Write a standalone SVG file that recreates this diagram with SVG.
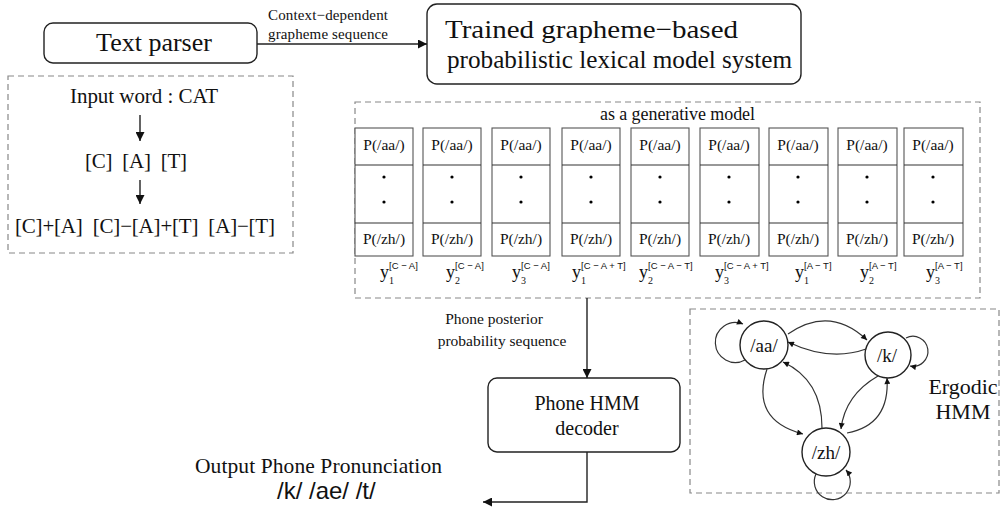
<svg xmlns="http://www.w3.org/2000/svg" width="1001" height="512" viewBox="0 0 1001 512">
<defs>
<style>
text{font-family:"Liberation Serif","Times New Roman",serif;fill:#111;white-space:pre}
.sans{font-family:"Liberation Sans",Arial,sans-serif}
.box{fill:#fff;stroke:#222;stroke-width:1.4}
.dash{fill:none;stroke:#888;stroke-width:1.2;stroke-dasharray:6,4}
.ln{fill:none;stroke:#222;stroke-width:1.4}
.thin{fill:none;stroke:#333;stroke-width:1.2}
.col{fill:#fff;stroke:#555;stroke-width:1.1}
.c{text-anchor:middle}
.p{font-size:15.5px}
.sup{font-size:9.5px;font-family:"Liberation Sans",Arial,sans-serif}
.sub{font-size:10px}
.yl{font-size:18px}
</style>
<marker id="ah" viewBox="0 0 10 10" refX="10" refY="5" markerWidth="11" markerHeight="9" markerUnits="userSpaceOnUse" orient="auto"><path d="M0,0 L10,5 L0,10 z" fill="#111"/></marker>
<marker id="ahv" viewBox="0 0 10 10" refX="10" refY="5" markerWidth="14" markerHeight="9" markerUnits="userSpaceOnUse" orient="auto"><path d="M0,0 L10,5 L0,10 z" fill="#111"/></marker>
<marker id="ahs" viewBox="0 0 10 10" refX="10" refY="5" markerWidth="7" markerHeight="6" markerUnits="userSpaceOnUse" orient="auto"><path d="M0,0 L10,5 L0,10 z" fill="#111"/></marker>
</defs>

<g id="text-parser">
<rect class="box" x="44" y="23" width="213" height="40" rx="9"/>
<text class="c" x="154" y="51" font-size="26">Text parser</text>
</g>

<g id="trained-model">
<rect class="box" x="427" y="4" width="374" height="80" rx="10"/>
<text x="445" y="38" font-size="26" textLength="293" lengthAdjust="spacingAndGlyphs">Trained grapheme−based</text>
<text x="447" y="68" font-size="25" textLength="345" lengthAdjust="spacingAndGlyphs">probabilistic lexical model system</text>
</g>

<g id="input-example">
<rect class="dash" x="8" y="76" width="285" height="177"/>
<text x="70" y="103" font-size="21" textLength="148" lengthAdjust="spacing">Input word : CAT</text>
<text x="85" y="168" font-size="21" textLength="102" lengthAdjust="spacing">[C]  [A]  [T]</text>
<text x="15" y="233" font-size="21" textLength="260" lengthAdjust="spacing">[C]+[A]  [C]−[A]+[T]  [A]−[T]</text>
<line class="ln" x1="140" y1="115" x2="140" y2="141" marker-end="url(#ahv)"/>
<line class="ln" x1="140" y1="180" x2="140" y2="204" marker-end="url(#ahv)"/>
</g>

<g id="generative-model">
<rect class="dash" x="355" y="102" width="625" height="196"/>
<text x="600" y="120" font-size="18" textLength="155" lengthAdjust="spacing">as a generative model</text>
<g id="columns">
<g transform="translate(355,0)"><rect class="col" x="0" y="128" width="58" height="128"/><line class="thin" x1="0" y1="165" x2="58" y2="165"/><line class="thin" x1="0" y1="223" x2="58" y2="223"/><text class="c p" x="29" y="150">P(/aa/)</text><circle cx="29" cy="177" r="1.6"/><circle cx="29" cy="202" r="1.6"/><text class="c p" x="29" y="244">P(/zh/)</text></g>
<g transform="translate(423,0)"><rect class="col" x="0" y="128" width="58" height="128"/><line class="thin" x1="0" y1="165" x2="58" y2="165"/><line class="thin" x1="0" y1="223" x2="58" y2="223"/><text class="c p" x="29" y="150">P(/aa/)</text><circle cx="29" cy="177" r="1.6"/><circle cx="29" cy="202" r="1.6"/><text class="c p" x="29" y="244">P(/zh/)</text></g>
<g transform="translate(492,0)"><rect class="col" x="0" y="128" width="58" height="128"/><line class="thin" x1="0" y1="165" x2="58" y2="165"/><line class="thin" x1="0" y1="223" x2="58" y2="223"/><text class="c p" x="29" y="150">P(/aa/)</text><circle cx="29" cy="177" r="1.6"/><circle cx="29" cy="202" r="1.6"/><text class="c p" x="29" y="244">P(/zh/)</text></g>
<g transform="translate(562,0)"><rect class="col" x="0" y="128" width="58" height="128"/><line class="thin" x1="0" y1="165" x2="58" y2="165"/><line class="thin" x1="0" y1="223" x2="58" y2="223"/><text class="c p" x="29" y="150">P(/aa/)</text><circle cx="29" cy="177" r="1.6"/><circle cx="29" cy="202" r="1.6"/><text class="c p" x="29" y="244">P(/zh/)</text></g>
<g transform="translate(631,0)"><rect class="col" x="0" y="128" width="58" height="128"/><line class="thin" x1="0" y1="165" x2="58" y2="165"/><line class="thin" x1="0" y1="223" x2="58" y2="223"/><text class="c p" x="29" y="150">P(/aa/)</text><circle cx="29" cy="177" r="1.6"/><circle cx="29" cy="202" r="1.6"/><text class="c p" x="29" y="244">P(/zh/)</text></g>
<g transform="translate(700,0)"><rect class="col" x="0" y="128" width="59" height="128"/><line class="thin" x1="0" y1="165" x2="59" y2="165"/><line class="thin" x1="0" y1="223" x2="59" y2="223"/><text class="c p" x="29" y="150">P(/aa/)</text><circle cx="29" cy="177" r="1.6"/><circle cx="29" cy="202" r="1.6"/><text class="c p" x="29" y="244">P(/zh/)</text></g>
<g transform="translate(769,0)"><rect class="col" x="0" y="128" width="59" height="128"/><line class="thin" x1="0" y1="165" x2="59" y2="165"/><line class="thin" x1="0" y1="223" x2="59" y2="223"/><text class="c p" x="29" y="150">P(/aa/)</text><circle cx="29" cy="177" r="1.6"/><circle cx="29" cy="202" r="1.6"/><text class="c p" x="29" y="244">P(/zh/)</text></g>
<g transform="translate(838,0)"><rect class="col" x="0" y="128" width="59" height="128"/><line class="thin" x1="0" y1="165" x2="59" y2="165"/><line class="thin" x1="0" y1="223" x2="59" y2="223"/><text class="c p" x="29" y="150">P(/aa/)</text><circle cx="29" cy="177" r="1.6"/><circle cx="29" cy="202" r="1.6"/><text class="c p" x="29" y="244">P(/zh/)</text></g>
<g transform="translate(904,0)"><rect class="col" x="0" y="128" width="59" height="128"/><line class="thin" x1="0" y1="165" x2="59" y2="165"/><line class="thin" x1="0" y1="223" x2="59" y2="223"/><text class="c p" x="29" y="150">P(/aa/)</text><circle cx="29" cy="177" r="1.6"/><circle cx="29" cy="202" r="1.6"/><text class="c p" x="29" y="244">P(/zh/)</text></g>
</g>
<g id="labels">
<g transform="translate(380,0)"><text class="yl" x="0" y="278">y</text><text class="sub" x="9" y="284">1</text><text class="sup" x="9" y="269">[C − A]</text></g>
<g transform="translate(446,0)"><text class="yl" x="0" y="278">y</text><text class="sub" x="9" y="284">2</text><text class="sup" x="9" y="269">[C − A]</text></g>
<g transform="translate(512,0)"><text class="yl" x="0" y="278">y</text><text class="sub" x="9" y="284">3</text><text class="sup" x="9" y="269">[C − A]</text></g>
<g transform="translate(572,0)"><text class="yl" x="0" y="278">y</text><text class="sub" x="9" y="284">1</text><text class="sup" x="9" y="269">[C − A + T]</text></g>
<g transform="translate(639,0)"><text class="yl" x="0" y="278">y</text><text class="sub" x="9" y="284">2</text><text class="sup" x="9" y="269">[C − A − T]</text></g>
<g transform="translate(715,0)"><text class="yl" x="0" y="278">y</text><text class="sub" x="9" y="284">3</text><text class="sup" x="9" y="269">[C − A + T]</text></g>
<g transform="translate(795,0)"><text class="yl" x="0" y="278">y</text><text class="sub" x="9" y="284">1</text><text class="sup" x="9" y="269">[A − T]</text></g>
<g transform="translate(860,0)"><text class="yl" x="0" y="278">y</text><text class="sub" x="9" y="284">2</text><text class="sup" x="9" y="269">[A − T]</text></g>
<g transform="translate(926,0)"><text class="yl" x="0" y="278">y</text><text class="sub" x="9" y="284">3</text><text class="sup" x="9" y="269">[A − T]</text></g>
</g>
</g>

<g id="phone-hmm-decoder">
<rect class="box" x="488" y="378" width="192" height="74" rx="9"/>
<text class="c" x="587" y="410" font-size="20">Phone HMM</text>
<text class="c" x="587" y="435" font-size="20">decoder</text>
</g>

<g id="output">
<text x="195" y="473" font-size="21.5" textLength="247" lengthAdjust="spacing">Output Phone Pronunciation</text>
<text class="sans" x="277" y="499" font-size="24">/k/ /ae/ /t/</text>
</g>

<g id="ergodic-hmm">
<rect class="dash" x="690" y="309" width="309" height="184"/>
<circle class="box" cx="764" cy="345" r="24"/>
<text class="c" x="764" y="352" font-size="19">/aa/</text>
<circle class="box" cx="888" cy="355" r="23"/>
<text class="c" x="887" y="362" font-size="19">/k/</text>
<circle class="box" cx="826" cy="452" r="24"/>
<text class="c" x="826" y="459" font-size="19">/zh/</text>
<text class="c" x="963" y="394" font-size="22">Ergodic</text>
<text class="c" x="963" y="419" font-size="22">HMM</text>
</g>

<g id="connectors">
<line class="ln" x1="257" y1="44" x2="427" y2="44" marker-end="url(#ah)"/>
<text x="268" y="20" font-size="15" textLength="120" lengthAdjust="spacing">Context−dependent</text>
<text x="268" y="39" font-size="15" textLength="120" lengthAdjust="spacing">grapheme sequence</text>
<line class="ln" x1="587" y1="298" x2="587" y2="378" marker-end="url(#ahv)"/>
<text class="c" x="494" y="324" font-size="15.5">Phone posterior</text>
<text class="c" x="502" y="346" font-size="15.5">probability sequence</text>
<polyline class="ln" points="587,452 587,502 483,502" marker-end="url(#ah)"/>
<g class="hmm-edges">
<path class="thin" d="M745,360 A20,20 0 1 1 743,324" marker-end="url(#ahs)"/>
<path class="thin" d="M906,338 A15,15 0 1 1 910,366" marker-end="url(#ahs)"/>
<path class="thin" d="M816,474 A18,18 0 1 0 846,470" marker-end="url(#ahs)"/>
<path class="thin" d="M788,334 Q830,305 867,340" marker-end="url(#ahs)"/>
<path class="thin" d="M866,349 Q830,362 788,342" marker-end="url(#ahs)"/>
<path class="thin" d="M767,369 Q750,420 803,434" marker-end="url(#ahs)"/>
<path class="thin" d="M822,428 Q822,380 783,362" marker-end="url(#ahs)"/>
<path class="thin" d="M878,376 Q845,395 841,429" marker-end="url(#ahs)"/>
<path class="thin" d="M847,433 Q890,425 887,378" marker-end="url(#ahs)"/>
</g>
</g>
</svg>
